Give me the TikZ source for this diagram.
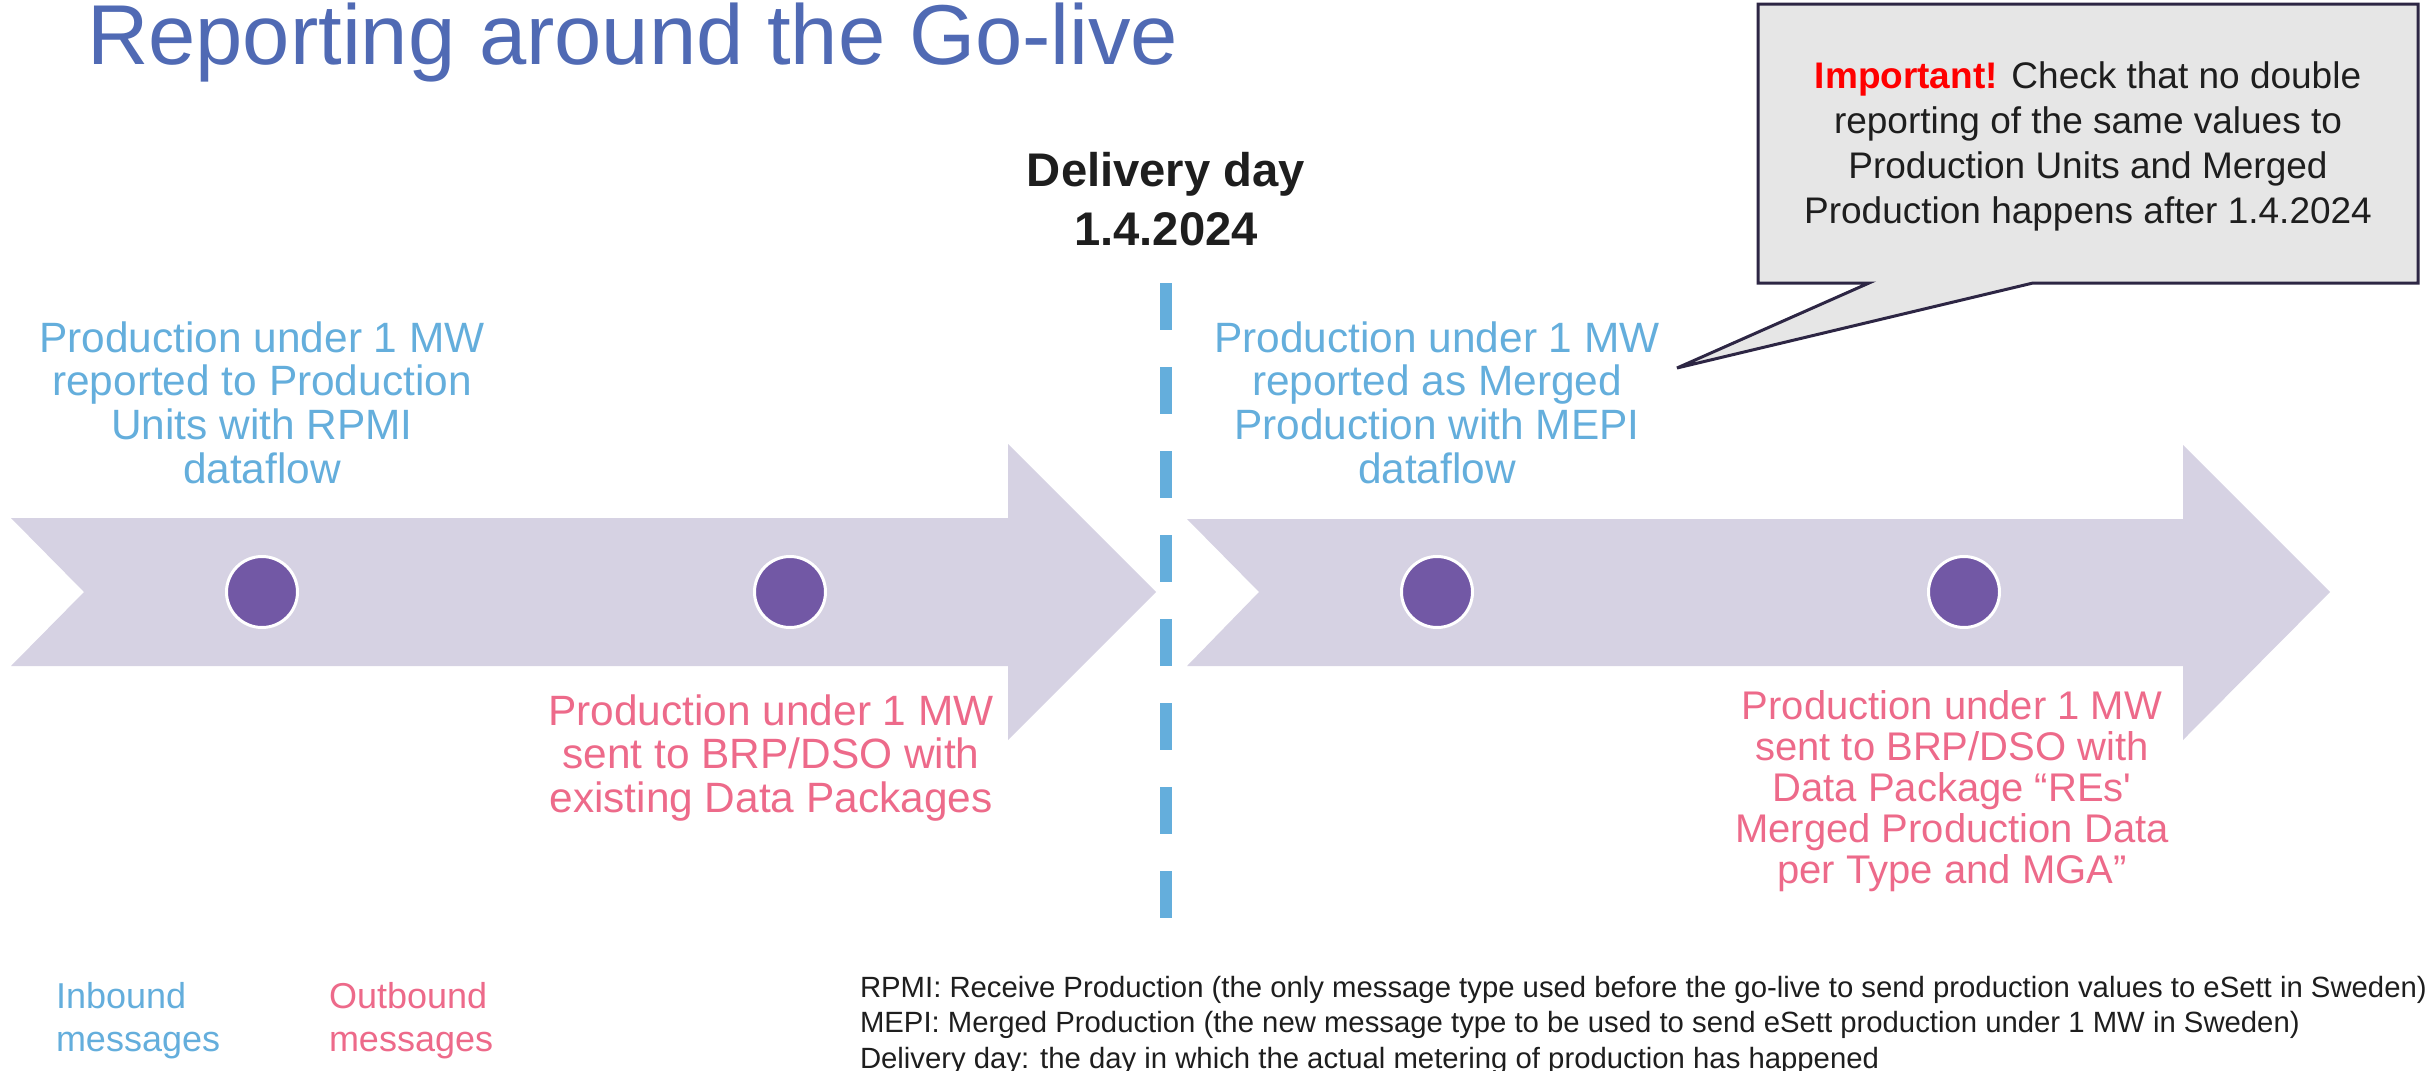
\documentclass[tikz,border=0pt]{standalone}
\usepackage{fontspec}
\setmainfont{Liberation Sans}
\newfontfamily\rawfont{Liberation Sans}
\definecolor{titleblue}{RGB}{80,106,180}
\definecolor{inblue}{RGB}{100,174,220}
\definecolor{outpink}{RGB}{237,106,138}
\definecolor{chevron}{RGB}{214,210,227}
\definecolor{dotpurple}{RGB}{114,88,165}
\definecolor{calloutfill}{RGB}{230,230,230}
\definecolor{calloutline}{RGB}{45,38,68}
\definecolor{darktext}{RGB}{30,30,30}
\definecolor{imported}{RGB}{255,0,0}
\tikzset{
  txt/.style={inner sep=0pt, outer sep=0pt, anchor=base},
  txtl/.style={inner sep=0pt, outer sep=0pt, anchor=base west},
  dot/.style={circle, inner sep=0pt, minimum size=35.5pt, fill=dotpurple, draw=white, line width=1.5pt},
  chev/.style={fill=chevron},
  dashline/.style={draw=inblue, line width=6pt, dash pattern=on 23.5pt off 18.5pt},
  bubble/.style={fill=calloutfill, draw=calloutline, line width=1.5pt, line join=miter},
  bigfont/.style={font=\fontsize{21.2}{21.85}\selectfont},
}
\begin{document}
\begin{tikzpicture}[x=0.5pt,y=-0.5pt]
\useasboundingbox (0,0) rectangle (2432,1071);

% title
\node[txtl, text=titleblue, font=\fontsize{42.5}{50}\selectfont] (title) at (87,64) {Reporting around the Go-live};

% chevrons
\fill[chev] (11,518) -- (1008,518) -- (1008,444) -- (1156,592) -- (1008,740) -- (1008,666) -- (11,666) -- (84,592) -- cycle;
\fill[chev] (1187,519) -- (2183,519) -- (2183,445) -- (2330,592) -- (2183,740) -- (2183,666) -- (1187,666) -- (1259,592) -- cycle;

% dots
\node[dot] (d1) at (262,592) {};
\node[dot] (d2) at (790,592) {};
\node[dot] (d3) at (1437,592) {};
\node[dot] (d4) at (1964,592) {};

% delivery day line
\coordinate (dtop) at (1166,283);
\coordinate (dbot) at (1166,918);
\draw[dashline] (dtop) -- (dbot);
\node[txt, text=darktext, font=\fontsize{23.6}{29.5}\selectfont\bfseries] (dday) at (1166,186)
  {\begin{tabular}[t]{@{}c@{}}Delivery day\\1.4.2024\end{tabular}};

% inbound texts
\node[txt, text=inblue, bigfont] (in1) at (262,352)
  {\begin{tabular}[t]{@{}c@{}}Production under 1 MW\\reported to Production\\Units with RPMI\\dataflow\end{tabular}};
\node[txt, text=inblue, bigfont] (in2) at (1437,352)
  {\begin{tabular}[t]{@{}c@{}}Production under 1 MW\\reported as Merged\\Production with MEPI\\dataflow\end{tabular}};

% outbound texts
\node[txt, text=outpink, font=\fontsize{21.2}{21.4}\selectfont] (out1) at (771,725)
  {\begin{tabular}[t]{@{}c@{}}Production under 1 MW\\sent to BRP/DSO with\\existing Data Packages\end{tabular}};
\node[txt, text=outpink, font=\fontsize{20}{20.4}\selectfont] (out2) at (1952,719)
  {\begin{tabular}[t]{@{}c@{}}Production under 1 MW\\sent to BRP/DSO with\\Data Package “REs{\rawfont'}\\Merged Production Data\\per Type and MGA”\end{tabular}};

% callout
\coordinate (c1) at (1758,4);
\coordinate (c2) at (2418,4);
\coordinate (c3) at (2418,283);
\coordinate (c4) at (2033,283);
\coordinate (ctip) at (1677,368);
\coordinate (c5) at (1869,283);
\coordinate (c6) at (1758,283);
\path[bubble] (c1) -- (c2) -- (c3) -- (c4) -- (ctip) -- (c5) -- (c6) -- cycle;
\node[txt, text=darktext, font=\fontsize{18.5}{22.5}\selectfont] (note) at (2088,88)
  {\begin{tabular}[t]{@{}c@{}}\textcolor{imported}{\textbf{Important!}} Check that no double\\reporting of the same values to\\Production Units and Merged\\Production happens after 1.4.2024\end{tabular}};

% legend
\node[txtl, text=inblue, font=\fontsize{18}{21.5}\selectfont] (leg1) at (56,1008)
  {\begin{tabular}[t]{@{}l@{}}Inbound\\messages\end{tabular}};
\node[txtl, text=outpink, font=\fontsize{18}{21.5}\selectfont] (leg2) at (329,1008)
  {\begin{tabular}[t]{@{}l@{}}Outbound\\messages\end{tabular}};

% footnotes
\node[txtl, text=darktext, font=\fontsize{14.65}{17.75}\selectfont] (foot) at (860,997)
  {\begin{tabular}[t]{@{}l@{}}RPMI: Receive Production (the only message type used before the go-live to send production values to eSett in Sweden)\\MEPI: Merged Production (the new message type to be used to send eSett production under 1 MW in Sweden)\\Delivery day: the day in which the actual metering of production has happened\end{tabular}};
\end{tikzpicture}
\end{document}
